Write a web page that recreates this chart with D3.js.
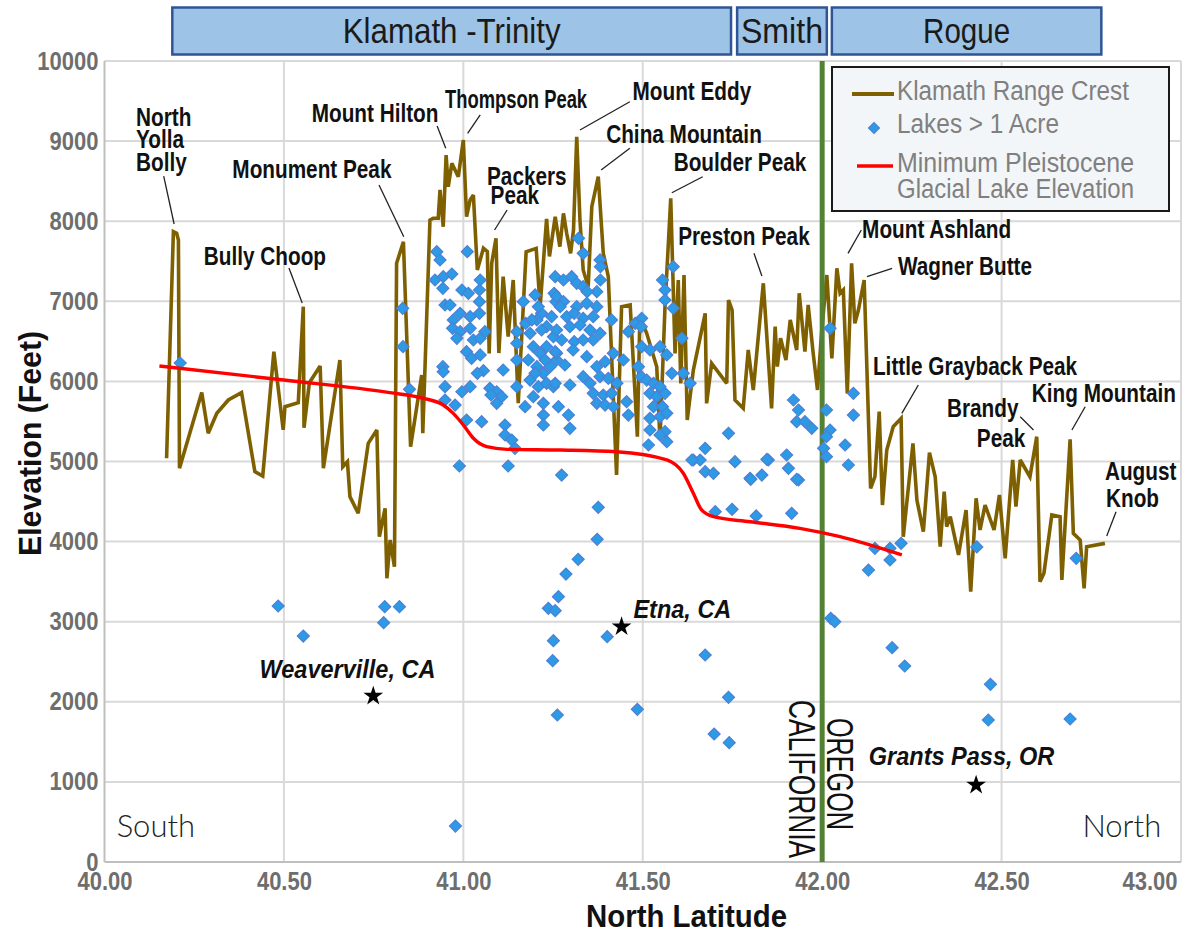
<!DOCTYPE html>
<html lang="en">
<head>
<meta charset="UTF-8">
<title>Klamath Range Crest and Lakes</title>
<script src="https://d3js.org/d3.v7.min.js"></script>
<style>
  body { margin: 0; background: #fff; }
  svg { display: block; font-family: "Liberation Sans", Arial, sans-serif; }
  .grid line { stroke: #d9d9d9; stroke-width: 2; }
  .tick-label { font-weight: bold; font-size: 25px; fill: #6e6e6e; }
  .peak { font-weight: bold; font-size: 25px; fill: #111; }
  .town { font-weight: bold; font-style: italic; font-size: 25px; fill: #111; }
  .leader { stroke: #222; stroke-width: 1.3; fill: none; }
  .legend-text { font-size: 27px; fill: #808080; }
</style>
</head>
<body>
<svg width="1186" height="934"></svg>
<script>
// crest elevation along the range, [north latitude, feet]
const crest = [
  [40.173,5040],[40.192,7869],[40.201,7849],[40.206,7765],[40.209,4915],[40.271,5860],[40.289,5352],[40.313,5602],
  [40.345,5768],[40.382,5860],[40.419,4873],[40.441,4819],[40.472,6371],[40.498,5395],[40.503,5684],[40.540,5734],
  [40.554,6933],[40.556,5422],[40.571,5984],[40.601,6192],[40.610,4915],[40.656,6267],[40.664,4935],[40.677,4998],
  [40.684,4561],[40.707,4353],[40.735,5227],[40.759,5393],[40.766,4061],[40.782,4416],[40.787,3542],[40.796,4020],
  [40.808,3687],[40.814,7474],[40.833,7744],[40.853,5185],[40.884,6080],[40.887,5352],[40.907,8015],[40.916,8036],
  [40.930,8036],[40.935,8390],[40.944,7931],[40.952,8826],[40.958,8431],[40.968,8722],[40.986,8556],[41.000,9014],
  [41.009,8056],[41.019,8265],[41.028,8327],[41.039,7391],[41.056,7662],[41.067,7620],[41.072,6350],[41.079,7474],
  [41.091,7786],[41.099,6354],[41.111,7307],[41.125,6558],[41.139,7266],[41.153,5727],[41.175,7619],[41.203,7661],
  [41.214,6933],[41.232,8030],[41.240,7560],[41.256,8056],[41.269,7682],[41.279,8098],[41.288,7849],[41.299,7599],
  [41.307,7890],[41.316,9055],[41.325,8015],[41.334,7391],[41.348,7182],[41.358,8181],[41.376,8556],[41.390,7599],
  [41.404,7307],[41.427,4831],[41.441,6933],[41.465,6954],[41.485,5310],[41.492,6808],[41.511,6600],[41.539,6183],
  [41.548,5268],[41.562,6933],[41.578,8285],[41.590,6350],[41.599,7266],[41.606,5975],[41.615,7328],[41.624,5518],
  [41.641,6142],[41.674,6850],[41.678,5726],[41.692,6226],[41.734,5976],[41.739,7016],[41.749,6891],[41.757,5768],
  [41.780,5664],[41.794,6392],[41.808,5893],[41.836,7225],[41.859,5664],[41.869,6683],[41.875,6184],[41.884,6538],
  [41.899,6267],[41.911,6767],[41.929,6392],[41.936,7100],[41.952,6371],[41.961,6954],[41.975,6350],[41.987,5893],
  [41.999,6642],[42.013,7328],[42.027,6288],[42.041,7412],[42.050,7100],[42.059,7141],[42.070,5851],[42.082,7474],
  [42.091,6725],[42.101,6891],[42.117,7266],[42.135,4665],[42.147,4810],[42.159,5622],[42.168,4457],[42.180,5144],
  [42.198,5435],[42.220,5539],[42.226,4061],[42.253,5227],[42.264,4519],[42.282,4124],[42.299,5110],[42.315,4810],
  [42.329,3936],[42.340,4623],[42.347,4186],[42.357,4311],[42.380,3833],[42.401,4394],[42.414,3375],[42.429,4540],
  [42.440,4145],[42.454,4457],[42.479,4145],[42.494,4582],[42.510,3791],[42.531,5019],[42.540,4436],[42.552,5019],
  [42.579,4810],[42.598,5310],[42.607,3500],[42.618,3604],[42.640,4332],[42.663,4311],[42.668,3521],[42.691,5277],
  [42.700,4103],[42.719,4020],[42.730,3417],[42.737,3936],[42.788,3978]
];

// minimum Pleistocene glacial lake elevation
const glacialMin = [
  [40.153,6192],[40.500,6017],[40.795,5860],[40.889,5789],[40.944,5705],[40.972,5601],[41.000,5456],[41.028,5290],
  [41.065,5185],[41.121,5152],[41.270,5143],[41.427,5122],[41.567,5019],[41.613,4853],[41.641,4603],[41.664,4395],
  [41.697,4311],[41.799,4248],[41.938,4166],[42.050,4061],[42.222,3833]
];

// lakes larger than one acre
const lakes = [
  [40.211,6230],[40.484,3196],[40.554,2821],[40.778,2988],[40.781,3188],[40.822,3188],[40.978,449],
  [40.831,6912],[40.832,6433],[40.850,5901],[40.926,7619],[40.935,7516],[40.921,7266],[40.944,7307],[40.968,7341],
  [40.943,7162],[41.011,7619],[40.949,6954],[40.963,6954],[40.996,7141],[41.014,7100],[41.047,7266],[41.045,7141],
  [40.972,6767],[40.991,6850],[41.019,6808],[41.045,6995],[40.970,6663],[40.991,6621],[41.019,6663],[41.045,6850],
  [41.060,6621],[40.982,6538],[41.028,6517],[41.047,6538],[41.009,6371],[41.023,6288],[41.047,6330],[40.943,6184],
  [40.944,6121],[40.949,5934],[41.056,6134],[41.039,6101],[41.019,5934],[40.996,5871],[41.074,5914],[41.093,5871],
  [41.111,6142],[41.077,5830],[41.107,5809],[41.093,5726],[40.949,5768],[40.977,5705],[41.009,5518],[41.051,5497],
  [41.116,5456],[41.116,5331],[41.135,5268],[41.144,5165],[40.989,4944],[41.125,4944],[41.149,6621],[41.149,6476],
  [41.149,6267],[41.149,5934],[41.167,6995],[41.172,5684],[41.174,6725],[41.200,7079],[41.223,5580],[41.223,5456],
  [41.256,7307],[41.258,6995],[41.253,7100],
  [41.186,6600],[41.205,6767],[41.218,6850],[41.232,6683],[41.195,6433],[41.214,6350],[41.232,6433],[41.251,6558],
  [41.181,6267],[41.205,6184],[41.223,6101],[41.242,6184],[41.260,6267],[41.186,6017],[41.209,5934],[41.232,5976],
  [41.251,5934],[41.195,5809],[41.223,5726],[41.260,6350],[41.209,6933],[41.246,6808],[41.228,6267],[41.200,6101],
  [41.218,6642],[41.191,6767],
  [41.321,7786],[41.334,7599],[41.381,7516],[41.382,7432],[41.382,7266],[41.372,7120],[41.279,7266],[41.302,7307],
  [41.316,7225],[41.334,7183],[41.345,7120],[41.260,7058],[41.279,6995],[41.270,6933],[41.316,6933],[41.344,6975],
  [41.372,6933],[41.288,6808],[41.309,6850],[41.334,6788],[41.362,6808],[41.413,6767],[41.260,6642],[41.297,6683],
  [41.325,6704],[41.353,6642],[41.381,6600],[41.274,6517],[41.309,6496],[41.334,6517],[41.362,6517],[41.256,6371],
  [41.283,6205],[41.306,6392],[41.344,6309],[41.372,6184],[41.395,6246],[41.418,6350],[41.446,6267],[41.460,6621],
  [41.479,6725],[41.497,6788],[41.496,6683],[41.256,5976],[41.297,5955],[41.334,6059],[41.353,5976],[41.381,6059],
  [41.404,6038],[41.428,5976],[41.362,5851],[41.390,5830],[41.413,5851],[41.372,5726],[41.395,5705],[41.418,5685],
  [41.455,5747],[41.460,5580],[41.265,5685],[41.293,5580],[41.297,5414],[41.497,6433],[41.520,6392],[41.548,6433],
  [41.567,6330],[41.488,6184],[41.496,6059],[41.511,6017],[41.530,5976],[41.548,5934],[41.520,5851],[41.539,5809],
  [41.562,5851],[41.530,5685],[41.555,5685],[41.520,5539],[41.548,5560],[41.567,5601],[41.520,5393],[41.562,5372],
  [41.567,5247],[41.516,5206],[41.548,5331],[41.555,7266],[41.562,7141],[41.562,7016],[41.585,7432],[41.585,6912],
  [41.609,6538],[41.581,6101],[41.613,6101],[41.632,5976],[41.641,5019],[41.274,4831],
  [41.920,5768],[41.934,5643],[41.929,5497],[41.952,5497],[41.971,5414],[41.739,5352],[41.674,5164],[41.660,5019],
  [41.674,4873],[41.697,4852],[41.757,4998],[41.799,4790],[41.832,4831],[41.850,5019],[41.901,5081],[41.906,4915],
  [41.934,4769],[42.012,5643],[42.022,5393],[42.012,5310],[42.004,5164],[42.012,5060],[42.064,5206],[42.073,4956],
  [42.087,5851],[42.087,5580],[42.022,6663],
  [41.376,4428],[41.373,4028],[41.320,3779],[41.286,3595],[41.265,3313],[41.237,3167],[41.256,3138],[41.251,2763],
  [41.249,2513],[41.262,1835],[41.401,2813],[41.485,1906],[41.674,2584],[41.739,2056],[41.699,1598],[41.741,1490],
  [41.637,5019],[41.801,4778],[41.846,5027],[41.929,4778],[41.702,4373],[41.749,4403],[41.816,4320],[41.915,4353],
  [42.024,3042],[42.035,3000],[42.195,2676],[42.230,2447],[42.469,2218],[42.463,1773],[42.691,1785],
  [42.147,3916],[42.189,3916],[42.220,3978],[42.129,3645],[42.189,3770],[42.431,3933],[42.708,3791]
];

const towns = [
  { name: "Weaverville, CA", lat: 40.749, elev: 2072, labelLat: 40.432, labelElev: 2293 },
  { name: "Etna, CA",        lat: 41.441, elev: 2938, labelLat: 41.474, labelElev: 3042 },
  { name: "Grants Pass, OR", lat: 42.429, elev: 961,  labelLat: 42.130, labelElev: 1211 }
];

// peak name lines: [text, lat, elev, anchor]
const peakLabels = [
  ["North", 40.088, 9188, "start"], ["Yolla", 40.088, 8914, "start"], ["Bolly", 40.088, 8626, "start"],
  ["Monument Peak", 40.578, 8539, "middle"],
  ["Bully Choop", 40.447, 7453, "middle"],
  ["Mount Hilton", 40.754, 9238, "middle"],
  ["Thompson Peak", 41.147, 9413, "middle"],
  ["Packers", 41.066, 8452, "start"], ["Peak", 41.076, 8214, "start"],
  ["Mount Eddy", 41.637, 9513, "middle"],
  ["China Mountain", 41.615, 8976, "middle"],
  ["Boulder Peak", 41.771, 8630, "middle"],
  ["Preston Peak", 41.782, 7703, "middle"],
  ["Mount Ashland", 42.319, 7790, "middle"],
  ["Wagner Butte", 42.398, 7328, "middle"],
  ["Little Grayback Peak", 42.426, 6080, "middle"],
  ["King Mountain", 42.785, 5746, "middle"],
  ["Brandy", 42.547, 5559, "end"], ["Peak", 42.566, 5177, "end"],
  ["August", 42.788, 4769, "start"], ["Knob", 42.791, 4436, "start"]
];

const peakLeaders = [
  [[40.165,8564],[40.194,7965]], [[40.765,8452],[40.834,7806]], [[40.514,7416],[40.551,6979]],
  [[40.927,9188],[40.951,8910]], [[41.047,9326],[41.012,9097]], [[41.122,8140],[41.087,7890]],
  [[41.464,9492],[41.325,9138]], [[41.464,8910],[41.384,8639]], [[41.667,8555],[41.581,8355]],
  [[41.810,7599],[41.832,7316]], [[42.109,7890],[42.072,7599]], [[42.195,7412],[42.125,7307]],
  [[42.268,5955],[42.222,5601]], [[42.733,5684],[42.696,5393]], [[42.552,5559],[42.589,5393]],
  [[42.819,4373],[42.793,4070]]
];

const basins = [
  { name: "Klamath -Trinity", from: 40.189, to: 41.746 },
  { name: "Smith",            from: 41.763, to: 42.013 },
  { name: "Rogue",            from: 42.027, to: 42.778 }
];

const legendItems = ["Klamath Range Crest", "Lakes > 1 Acre", "Minimum Pleistocene", "Glacial Lake Elevation"];

const xTicks = [40, 40.5, 41, 41.5, 42, 42.5, 43];
const yTicks = d3.range(0, 10001, 1000);
const stateLine = 42.0;

const svg = d3.select("svg");
const x = d3.scaleLinear().domain([40, 43]).range([104.5, 1181]);
const y = d3.scaleLinear().domain([0, 10000]).range([862, 61]);

// use a narrow face when the machine has one, otherwise squeeze the regular one
const probe = document.createElement("canvas").getContext("2d");
function fontExists(name) {
  probe.font = "40px monospace";
  const a = probe.measureText("Mount Hilton 0123").width;
  probe.font = `40px "${name}", monospace`;
  return probe.measureText("Mount Hilton 0123").width !== a;
}
const narrowFace = fontExists("Liberation Sans Narrow") ? '"Liberation Sans Narrow", "Liberation Sans", sans-serif' : null;

// target: number (width in px) or fraction of the regular width
function condense(sel, target) {
  sel.each(function (d) {
    const node = d3.select(this);
    const full = this.getComputedTextLength();
    const t = typeof target === "function" ? target(d) : target;
    const want = t > 2 ? t : full * t;
    if (narrowFace) node.style("font-family", narrowFace);
    const w = this.getComputedTextLength();
    if (Math.abs(w - want) > 1.5) node.attr("textLength", want).attr("lengthAdjust", "spacingAndGlyphs");
  });
}

// grid
const grid = svg.append("g").attr("class", "grid");
grid.selectAll(".h").data(yTicks.slice(1)).join("line")
  .attr("x1", x(40)).attr("x2", x(43)).attr("y1", d => y(d)).attr("y2", d => y(d));
grid.selectAll(".v").data(xTicks.slice(1)).join("line")
  .attr("y1", y(0)).attr("y2", y(10000)).attr("x1", d => x(d)).attr("x2", d => x(d));
svg.append("line").attr("x1", x(40)).attr("x2", x(43)).attr("y1", y(0)).attr("y2", y(0))
  .attr("stroke", "#bfbfbf").attr("stroke-width", 2);
svg.append("line").attr("x1", x(40)).attr("x2", x(40)).attr("y1", y(0)).attr("y2", y(10000))
  .attr("stroke", "#bfbfbf").attr("stroke-width", 2);

// axes labels
const yAxis = svg.append("g").attr("transform", `translate(${x(40)},0)`)
  .call(d3.axisLeft(y).tickValues(yTicks).tickSize(0).tickPadding(6).tickFormat(d3.format("d")));
const xAxis = svg.append("g").attr("transform", `translate(0,${y(0)})`)
  .call(d3.axisBottom(x).tickValues(xTicks).tickSize(0).tickPadding(10).tickFormat(d3.format(".2f")));
[yAxis, xAxis].forEach(a => {
  a.select(".domain").remove();
  a.selectAll("text").attr("class", "tick-label").attr("font-family", null).attr("font-size", null).attr("fill", null)
    .call(condense, 0.88);
});
xAxis.selectAll(".tick").filter(d => d === 43).select("text").attr("text-anchor", "end").attr("dx", -4);

svg.append("text")
  .attr("transform", `translate(41,${y(5225)}) rotate(-90)`)
  .attr("text-anchor", "middle").attr("font-weight", "bold").attr("font-size", 31).attr("fill", "#111")
  .text("Elevation (Feet)")
  .call(condense, 225);
svg.append("text")
  .attr("x", x(41.622)).attr("y", 927)
  .attr("text-anchor", "middle").attr("font-weight", "bold").attr("font-size", 32).attr("fill", "#111")
  .text("North Latitude")
  .call(condense, 201);

// crest line
svg.append("path").datum(crest)
  .attr("fill", "none").attr("stroke", "#7f6000").attr("stroke-width", 3.6)
  .attr("stroke-linejoin", "miter").attr("stroke-miterlimit", 3)
  .attr("d", d3.line().x(d => x(d[0])).y(d => y(d[1])));

// state line
svg.append("line")
  .attr("x1", x(stateLine)).attr("x2", x(stateLine)).attr("y1", y(0)).attr("y2", y(10000))
  .attr("stroke", "#548235").attr("stroke-width", 5);

// lakes
const diamond = d3.symbol(d3.symbolSquare, 72);
svg.append("g").selectAll("path").data(lakes).join("path")
  .attr("d", diamond)
  .attr("transform", d => `translate(${x(d[0])},${y(d[1])}) rotate(45)`)
  .attr("fill", "#2a9be4").attr("stroke", "#4f7fd6").attr("stroke-width", 1.2);

// glacial lake minimum
svg.append("path").datum(glacialMin)
  .attr("fill", "none").attr("stroke", "#ff0000").attr("stroke-width", 3.4)
  .attr("d", d3.line().curve(d3.curveMonotoneX).x(d => x(d[0])).y(d => y(d[1])));

// peak labels
svg.append("g").selectAll("line").data(peakLeaders).join("line")
  .attr("class", "leader")
  .attr("x1", d => x(d[0][0])).attr("y1", d => y(d[0][1]))
  .attr("x2", d => x(d[1][0])).attr("y2", d => y(d[1][1]));
svg.append("g").selectAll("text").data(peakLabels).join("text")
  .attr("class", "peak")
  .attr("x", d => x(d[1])).attr("y", d => y(d[2]))
  .attr("text-anchor", d => d[3])
  .text(d => d[0])
  .call(condense, d => d[0] === "Thompson Peak" ? 142 : 0.83);

// towns
svg.append("g").selectAll("path").data(towns).join("path")
  .attr("d", d3.symbol(d3.symbolStar, 120))
  .attr("transform", d => `translate(${x(d.lat)},${y(d.elev)})`)
  .attr("fill", "#000");
svg.append("g").selectAll("text").data(towns).join("text")
  .attr("class", "town")
  .attr("x", d => x(d.labelLat)).attr("y", d => y(d.labelElev))
  .text(d => d.name)
  .call(condense, 0.94);

// compass words and state names
svg.append("text").attr("x", x(40.034)).attr("y", y(308))
  .attr("font-family", "Lato, 'Liberation Sans', sans-serif").attr("font-weight", 300)
  .attr("font-size", 31).attr("fill", "#222").text("South");
svg.append("text").attr("x", x(42.945)).attr("y", y(308)).attr("text-anchor", "end")
  .attr("font-family", "Lato, 'Liberation Sans', sans-serif").attr("font-weight", 300)
  .attr("font-size", 31).attr("fill", "#222").text("North");
svg.append("text")
  .attr("transform", `translate(${x(41.907)},${y(2022)}) rotate(90)`)
  .attr("font-size", 36).attr("fill", "#111")
  .text("CALIFORNIA")
  .call(condense, 158);
svg.append("text")
  .attr("transform", `translate(${x(42.013)},${y(1798)}) rotate(90)`)
  .attr("font-size", 36).attr("fill", "#111")
  .text("OREGON")
  .call(condense, 112);

// basin headers
const headerWidths = [218, 82, 87];
const hdr = svg.append("g").selectAll("g").data(basins).join("g");
hdr.append("rect")
  .attr("x", d => x(d.from)).attr("y", 7.5)
  .attr("width", d => x(d.to) - x(d.from)).attr("height", 47)
  .attr("fill", "#9dc3e6").attr("stroke", "#2f5597").attr("stroke-width", 2.5);
hdr.append("text")
  .attr("x", d => (x(d.from) + x(d.to)) / 2).attr("y", 43)
  .attr("text-anchor", "middle").attr("font-size", 35).attr("fill", "#1a1a1a")
  .text(d => d.name)
  .each(function (d, i) { d3.select(this).call(condense, headerWidths[i]); });

// legend
const lg = svg.append("g").attr("transform", "translate(832,67)");
lg.append("rect").attr("width", 337).attr("height", 144)
  .attr("fill", "#f3f6f9").attr("stroke", "#1a1a1a").attr("stroke-width", 2);
lg.append("line").attr("x1", 20).attr("x2", 62).attr("y1", 27).attr("y2", 27)
  .attr("stroke", "#7f6000").attr("stroke-width", 4);
lg.append("path").attr("d", d3.symbol(d3.symbolSquare, 60))
  .attr("transform", "translate(42,61) rotate(45)")
  .attr("fill", "#2a9be4").attr("stroke", "#4f7fd6").attr("stroke-width", 1.2);
lg.append("line").attr("x1", 25).attr("x2", 61).attr("y1", 99).attr("y2", 99)
  .attr("stroke", "#ff0000").attr("stroke-width", 3.4);
const legendRows = [33, 66, 104.5, 131];
const legendWidths = [232, 162, 237, 237];
lg.selectAll(".legend-text").data(legendItems).join("text")
  .attr("class", "legend-text")
  .attr("x", 65).attr("y", (d, i) => legendRows[i])
  .text(d => d)
  .each(function (d, i) { d3.select(this).call(condense, legendWidths[i]); });
</script>
</body>
</html>
